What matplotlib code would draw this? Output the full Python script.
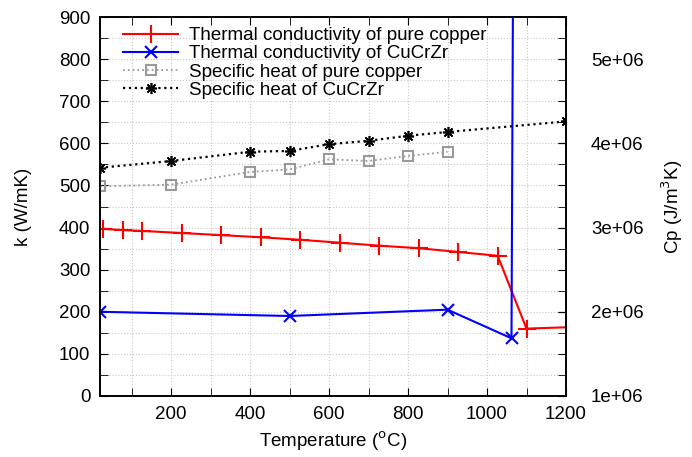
import matplotlib
matplotlib.use("Agg")
import matplotlib.pyplot as plt
from matplotlib.ticker import MultipleLocator, FixedLocator

plt.rcParams['font.family'] = ['Liberation Sans', 'DejaVu Sans']

# Thermal conductivity of pure copper (W/mK)
t_cu_k = [27, 77, 127, 227, 327, 427, 527, 627, 727, 827, 927, 1027, 1100, 1227]
k_cu = [397, 394, 392, 387, 382, 377, 371, 364, 357, 351, 342, 333, 160, 164]

# Thermal conductivity of CuCrZr (W/mK)
t_czz_k = [20, 500, 900, 1062, 1075]
k_czz = [200, 190, 205, 137, 3000]

# Specific heat of pure copper (J/m^3K)
t_cu_cp = [20, 200, 400, 500, 600, 700, 800, 900]
cp_cu = [3.49e6, 3.51e6, 3.66e6, 3.69e6, 3.81e6, 3.79e6, 3.85e6, 3.90e6]

# Specific heat of CuCrZr (J/m^3K)
t_czz_cp = [20, 200, 400, 500, 600, 700, 800, 900, 1200]
cp_czz = [3.71e6, 3.79e6, 3.90e6, 3.91e6, 3.99e6, 4.03e6, 4.09e6, 4.135e6, 4.26e6]

FS = 13.5

fig = plt.figure(figsize=(6.92, 4.57), dpi=100)
ax = fig.add_axes([100/692, 61/457, 466/692, 379/457])
ax2 = ax.twinx()

l1, = ax.plot(t_cu_k, k_cu, color='#ff0000', lw=1.5, marker='+', ms=13, mew=1.5,
              label='Thermal conductivity of pure copper')
l2, = ax.plot(t_czz_k, k_czz, color='#0000ff', lw=1.5, marker='x', ms=8, mew=1.5,
              label='Thermal conductivity of CuCrZr')
l3, = ax2.plot(t_cu_cp, cp_cu, color='#999999', lw=1.3, ls=':', marker='s', ms=7,
               mfc='none', mec='#999999', mew=1.5, label='Specific heat of pure copper')
l4, = ax2.plot(t_czz_cp, cp_czz, color='black', lw=1.6, ls=':', marker=(8, 2, 0), ms=8,
               mew=1.2, label='Specific heat of CuCrZr')

ax.set_xlim(20, 1200)
ax.set_ylim(0, 900)
ax2.set_ylim(1e6, 5.5e6)

ax.xaxis.set_major_locator(FixedLocator([200, 400, 600, 800, 1000, 1200]))
ax.xaxis.set_minor_locator(FixedLocator([100, 300, 500, 700, 900, 1100]))
ax.yaxis.set_major_locator(MultipleLocator(100))
ax.yaxis.set_minor_locator(MultipleLocator(50))
ax2.set_yticks([1e6, 2e6, 3e6, 4e6, 5e6])
ax2.set_yticklabels(['1e+06', '2e+06', '3e+06', '4e+06', '5e+06'])

ax.grid(True, which='both', color='#c8c8c8', ls=':', lw=0.8)
ax.set_axisbelow(True)

ax.tick_params(which='both', direction='in', top=True, right=True, labelsize=FS, pad=7)
ax.tick_params(which='major', length=6)
ax.tick_params(which='minor', length=6)
ax2.tick_params(which='both', direction='in', labelsize=FS, pad=18, length=6)

for a in (ax, ax2):
    for s in a.spines.values():
        s.set_linewidth(1.2)

ax.set_xlabel('Temperature ($^{\\mathrm{o}}$C)', fontsize=FS, labelpad=5)
ax.set_ylabel('k (W/mK)', fontsize=FS, labelpad=19)
ax2.set_ylabel('Cp (J/m$^{\\mathrm{3}}$K)', fontsize=FS, labelpad=11)

leg = ax2.legend(handles=[l1, l2, l3, l4], loc='upper left', bbox_to_anchor=(0.028, 1.0),
                 frameon=False, fontsize=FS, handlelength=2.9, handletextpad=0.6,
                 labelspacing=0.05, borderaxespad=0.15)

fig.savefig('out.png', dpi=100)
